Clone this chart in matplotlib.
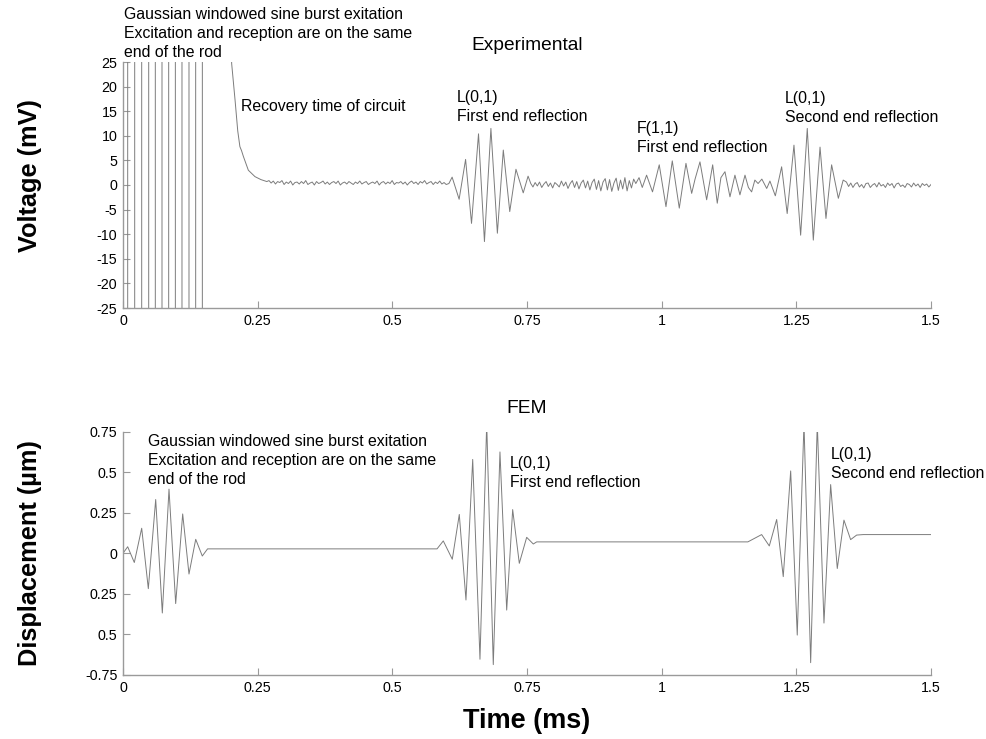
import numpy as np
import matplotlib
matplotlib.use("Agg")
import matplotlib.pyplot as plt

plt.rcParams['font.family'] = ['Liberation Sans', 'DejaVu Sans']

# ---------------- Experimental (mV) ----------------
exc_times = [0.0087, 0.0217, 0.0347, 0.0477, 0.0600, 0.0724, 0.0848,
             0.0972, 0.1095, 0.1225, 0.1349, 0.1473]
exc_level = 60.0  # saturated, off scale

recovery_t = [0.198, 0.2017, 0.208, 0.213, 0.217, 0.220, 0.2235, 0.2327, 0.245, 0.256, 0.267]
recovery_v = [60.0, 24.7, 17.3, 11.0, 7.8, 7.0, 5.8, 3.0, 1.7, 1.1, 0.7]

noise1_v = [0.9, 0.4, 0.8, 0.2, 0.7, 0.5, 0.9, 0.1, 0.6, 0.3,
            0.8, 0.0, 0.5, 0.6, 0.2, 0.7, 0.3, 0.9, 0.1, 0.4,
            0.6, 0.0, 0.7, 0.3, 0.5, 0.8, 0.2, 0.6, 0.1, 0.5,
            0.7, 0.3, 0.8, 0.0, 0.4, 0.6, 0.2, 0.7, 0.4, 0.1,
            0.6, 0.3, 0.8, 0.2, 0.5, 0.7, 0.1, 0.4, 0.6, 0.3,
            0.8, 0.0, 0.5, 0.7, 0.2, 0.6, 0.3, 0.9, 0.1, 0.5,
            0.4, 0.7, 0.2, 0.6, 0.0, 0.5, 0.8, 0.3, 0.6, 0.1,
            0.7, 0.4, 0.9, 0.2, 0.5, 0.7, 0.1, 0.6, 0.3, 0.8,
            0.2, 0.5, 0.1]
noise1_span = (0.271, 0.600)

burst1_t = [0.605, 0.611, 0.624, 0.636, 0.647, 0.660, 0.671, 0.683,
            0.695, 0.706, 0.718, 0.7295, 0.743, 0.752]
burst1_v = [0.3, 1.6, -2.9, 5.2, -7.8, 10.4, -11.5, 11.5,
            -9.8, 7.1, -5.4, 3.2, -1.6, 1.8]

noise2_v = [0.3, -0.4, 0.5, -0.2, 0.6, -0.5, 0.2, 0.7, -0.3, 0.4,
            -0.6, 0.5, 0.1, -0.4, 0.8, -0.2, 0.6, -0.7, 0.3, 0.9,
            -0.5, 0.7, -0.8, 0.4, 1.0, -0.6, 0.8, -1.0, 0.5, 1.2,
            -0.9, 0.9, -1.2, 0.6, 1.3, -1.0, 1.1, -1.3, 0.4, 1.4,
            -1.1, 1.0, -0.8, 1.5, -1.2, 0.9, -0.6, 1.2]
noise2_span = (0.757, 0.948)

f11_t = [0.952, 0.958, 0.964, 0.972, 0.983, 0.9955, 1.008, 1.0197, 1.0327,
         1.0451, 1.0557, 1.062, 1.0711, 1.0835, 1.0947, 1.1032, 1.110,
         1.1175, 1.1268, 1.136, 1.1453, 1.1547, 1.161, 1.167, 1.173,
         1.179, 1.186, 1.195, 1.201, 1.211]
f11_v = [0.3, 1.5, -0.5, 2.0, -1.4, 4.1, -4.4, 4.9, -4.7,
         4.4, -1.7, 1.2, 4.7, -3.0, 4.1, -3.7, 1.5,
         2.7, -2.4, 2.0, -2.0, 2.0, -0.5, -1.4, 1.0,
         0.3, 1.2, -0.7, 0.8, -2.2]

burst2_t = [1.2227, 1.233, 1.2456, 1.258, 1.2703, 1.2815, 1.294, 1.305,
            1.3155, 1.328, 1.337]
burst2_v = [3.7, -5.8, 8.1, -10.2, 11.5, -11.2, 7.7, -6.8, 4.1, -2.7, 1.0]

noise3_v = [0.6, -0.3, 0.4, -0.5, 0.2, 0.5, -0.4, 0.1, -0.6, 0.3,
            0.4, -0.5, 0.0, 0.3, -0.4, 0.5, -0.2, 0.1, -0.5, 0.4,
            -0.1, 0.3, -0.6, 0.2, 0.4, -0.3, 0.0, -0.5, 0.3, 0.1,
            -0.4, 0.4, -0.2, 0.2, -0.5, 0.3, -0.1, 0.2, -0.4, 0.1]
noise3_span = (1.343, 1.500)

# ---------------- FEM (um) ----------------
fem_exc_t = [0.0, 0.0087, 0.021, 0.0347, 0.047, 0.0607, 0.073, 0.0854,
             0.0978, 0.1108, 0.1225, 0.135, 0.1472, 0.157]
fem_exc_v = [0.0, 0.04, -0.057, 0.154, -0.218, 0.331, -0.368, 0.395,
             -0.310, 0.242, -0.128, 0.086, -0.017, 0.027]

fem_r1_t = [0.583, 0.5946, 0.6113, 0.6243, 0.6367, 0.6492, 0.6627, 0.6752,
            0.6874, 0.6998, 0.7123, 0.7234, 0.7357, 0.7494, 0.7617, 0.768]
fem_r1_v = [0.027, 0.076, -0.037, 0.239, -0.288, 0.578, -0.653, 0.80,
            -0.686, 0.624, -0.35, 0.269, -0.062, 0.098, 0.057, 0.07]

fem_r2_t = [1.160, 1.1856, 1.1998, 1.2135, 1.2257, 1.2395, 1.2517, 1.2642,
            1.2766, 1.2889, 1.3013, 1.3137, 1.326, 1.3384, 1.3508, 1.362,
            1.3743, 1.5]
fem_r2_v = [0.07, 0.115, 0.045, 0.208, -0.144, 0.507, -0.504, 0.80,
            -0.674, 0.80, -0.43, 0.423, -0.094, 0.204, 0.084, 0.112,
            0.115, 0.115]

x_ticks = [0, 0.25, 0.5, 0.75, 1, 1.25, 1.5]
x_labels = ['0', '0.25', '0.5', '0.75', '1', '1.25', '1.5']
top_yticks = [-25, -20, -15, -10, -5, 0, 5, 10, 15, 20, 25]
bot_yticks = [-0.75, -0.5, -0.25, 0, 0.25, 0.5, 0.75]
bot_ylabels = ['-0.75', '0.5', '0.25', '0', '0.25', '0.5', '0.75']

# ---------------- assemble experimental trace ----------------
exp_t = [0.0]
exp_v = [exc_level]
sign = 1
for tt in exc_times:
    exp_t += [tt, tt]
    exp_v += [sign * exc_level, -sign * exc_level]
    sign = -sign
exp_t += recovery_t
exp_v += recovery_v
exp_t += list(np.linspace(noise1_span[0], noise1_span[1], len(noise1_v)))
exp_v += noise1_v
exp_t += burst1_t
exp_v += burst1_v
exp_t += list(np.linspace(noise2_span[0], noise2_span[1], len(noise2_v)))
exp_v += noise2_v
exp_t += f11_t
exp_v += f11_v
exp_t += burst2_t
exp_v += burst2_v
exp_t += list(np.linspace(noise3_span[0], noise3_span[1], len(noise3_v)))
exp_v += noise3_v

fem_t = fem_exc_t + fem_r1_t + fem_r2_t
fem_v = fem_exc_v + fem_r1_v + fem_r2_v

# ---------------- figure ----------------
W, H = 987, 739
fig = plt.figure(figsize=(W / 100, H / 100), dpi=100)


def fx(px):
    return px / W


def fy(py):
    return 1 - py / H


line_color = '#7c7c7c'
spine_color = '#9a9a9a'

ax1 = fig.add_axes([fx(123), fy(308), fx(931) - fx(123), fy(62) - fy(308)])
ax2 = fig.add_axes([fx(123), fy(675), fx(931) - fx(123), fy(431.5) - fy(675)])

ax1.plot(exp_t, exp_v, color=line_color, lw=0.7)
ax2.plot(fem_t, fem_v, color=line_color, lw=0.7)

ax1.set_ylim(-25, 25)
ax1.set_yticks(top_yticks)
ax1.set_yticklabels([str(v) for v in top_yticks])
ax2.set_ylim(-0.75, 0.75)
ax2.set_yticks(bot_yticks)
ax2.set_yticklabels(bot_ylabels)

for ax in (ax1, ax2):
    ax.set_xlim(0, 1.5)
    ax.set_xticks(x_ticks)
    ax.set_xticklabels(x_labels)
    for s in ('top', 'right'):
        ax.spines[s].set_visible(False)
    for s in ('left', 'bottom'):
        ax.spines[s].set_color(spine_color)
        ax.spines[s].set_linewidth(1.0)
    ax.tick_params(direction='in', length=5, width=0.8, color=spine_color,
                   labelsize=10.3, labelcolor='black', pad=4)
    ax.patch.set_alpha(0)

tfs = 11.4
ls = 1.32
# titles
fig.text(fx(527), fy(45), 'Experimental', ha='center', va='center', fontsize=13.8)
fig.text(fx(527), fy(408), 'FEM', ha='center', va='center', fontsize=13.8)

# annotations top
fig.text(fx(124), fy(7), 'Gaussian windowed sine burst exitation\n'
         'Excitation and reception are on the same\nend of the rod',
         ha='left', va='top', fontsize=tfs, linespacing=ls)
fig.text(fx(241), fy(106), 'Recovery time of circuit', ha='left', va='center', fontsize=tfs)
fig.text(fx(457), fy(90), 'L(0,1)\nFirst end reflection', ha='left', va='top',
         fontsize=tfs, linespacing=ls)
fig.text(fx(637), fy(121), 'F(1,1)\nFirst end reflection', ha='left', va='top',
         fontsize=tfs, linespacing=ls)
fig.text(fx(785), fy(91), 'L(0,1)\nSecond end reflection', ha='left', va='top',
         fontsize=tfs, linespacing=ls)

# annotations bottom
fig.text(fx(148), fy(434), 'Gaussian windowed sine burst exitation\n'
         'Excitation and reception are on the same\nend of the rod',
         ha='left', va='top', fontsize=tfs, linespacing=ls)
fig.text(fx(510), fy(456), 'L(0,1)\nFirst end reflection', ha='left', va='top',
         fontsize=tfs, linespacing=ls)
fig.text(fx(831), fy(447), 'L(0,1)\nSecond end reflection', ha='left', va='top',
         fontsize=tfs, linespacing=ls)

# axis labels
fig.text(fx(30), fy(176), 'Voltage (mV)', rotation=90, ha='center', va='center',
         fontsize=18.3, fontweight='bold')
fig.text(fx(30), fy(553), 'Displacement (\u00b5m)', rotation=90, ha='center', va='center',
         fontsize=18.3, fontweight='bold')
fig.text(fx(527), fy(721), 'Time (ms)', ha='center', va='center',
         fontsize=19.5, fontweight='bold')

fig.savefig('out.png', dpi=100, facecolor='white')
